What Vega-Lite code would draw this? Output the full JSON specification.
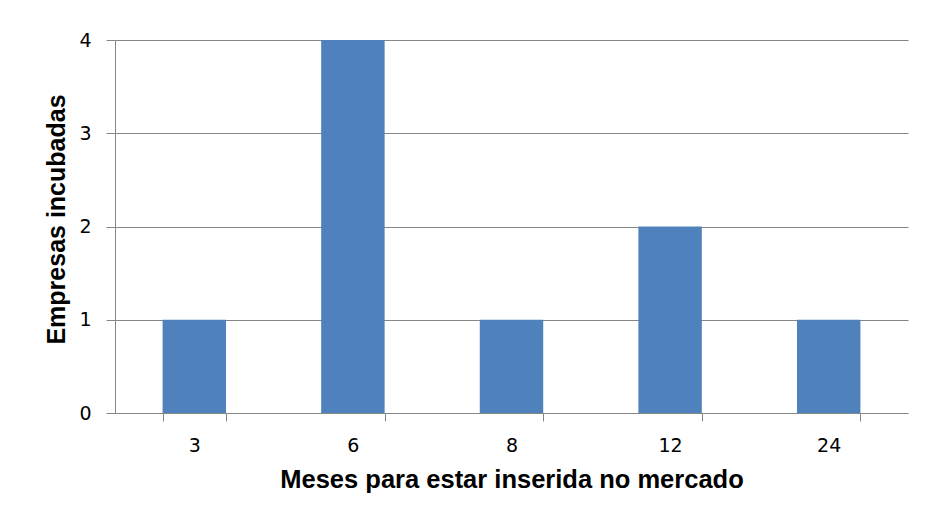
{
  "$schema": "https://vega.github.io/schema/vega-lite/v6.json",
  "width": 793,
  "height": 373,
  "autosize": {"type": "none"},
  "padding": {"left": 115, "top": 40, "right": 18, "bottom": 101},
  "background": "white",
  "data": {
    "values": [
      {"meses": "3", "empresas": 1},
      {"meses": "6", "empresas": 4},
      {"meses": "8", "empresas": 1},
      {"meses": "12", "empresas": 2},
      {"meses": "24", "empresas": 1}
    ]
  },
  "mark": {"type": "bar", "color": "#4F81BD"},
  "encoding": {
    "x": {
      "field": "meses",
      "type": "nominal",
      "sort": null,
      "scale": {"paddingInner": 0.6, "paddingOuter": 0.3},
      "axis": {
        "title": "Meses para estar inserida no mercado",
        "labelAngle": 0,
        "tickBand": "extent",
        "tickSize": 8,
        "tickColor": "#868686",
        "domainColor": "#868686",
        "labelPadding": 15,
        "labelFont": "DejaVu Sans",
        "labelFontSize": 19,
        "labelColor": "#000000",
        "titleFont": "Liberation Sans",
        "titleFontSize": 25.5,
        "titleFontWeight": "bold",
        "titleColor": "#000000",
        "titleBaseline": "alphabetic",
        "titleY": 74
      }
    },
    "y": {
      "field": "empresas",
      "type": "quantitative",
      "scale": {"domain": [0, 4]},
      "axis": {
        "title": "Empresas incubadas",
        "values": [0, 1, 2, 3, 4],
        "format": "d",
        "tickSize": 9,
        "tickColor": "#868686",
        "domainColor": "#868686",
        "gridColor": "#868686",
        "labelPadding": 15,
        "labelFont": "DejaVu Sans",
        "labelFontSize": 19,
        "labelColor": "#000000",
        "titleFont": "Liberation Sans",
        "titleFontSize": 25,
        "titleFontWeight": "bold",
        "titleColor": "#000000",
        "titleAngle": 270,
        "titleBaseline": "alphabetic",
        "titleAlign": "center",
        "titleX": -51,
        "titleY": 179
      }
    }
  },
  "config": {
    "view": {"stroke": null},
    "axis": {"domainWidth": 1, "gridWidth": 1, "tickWidth": 1}
  }
}
